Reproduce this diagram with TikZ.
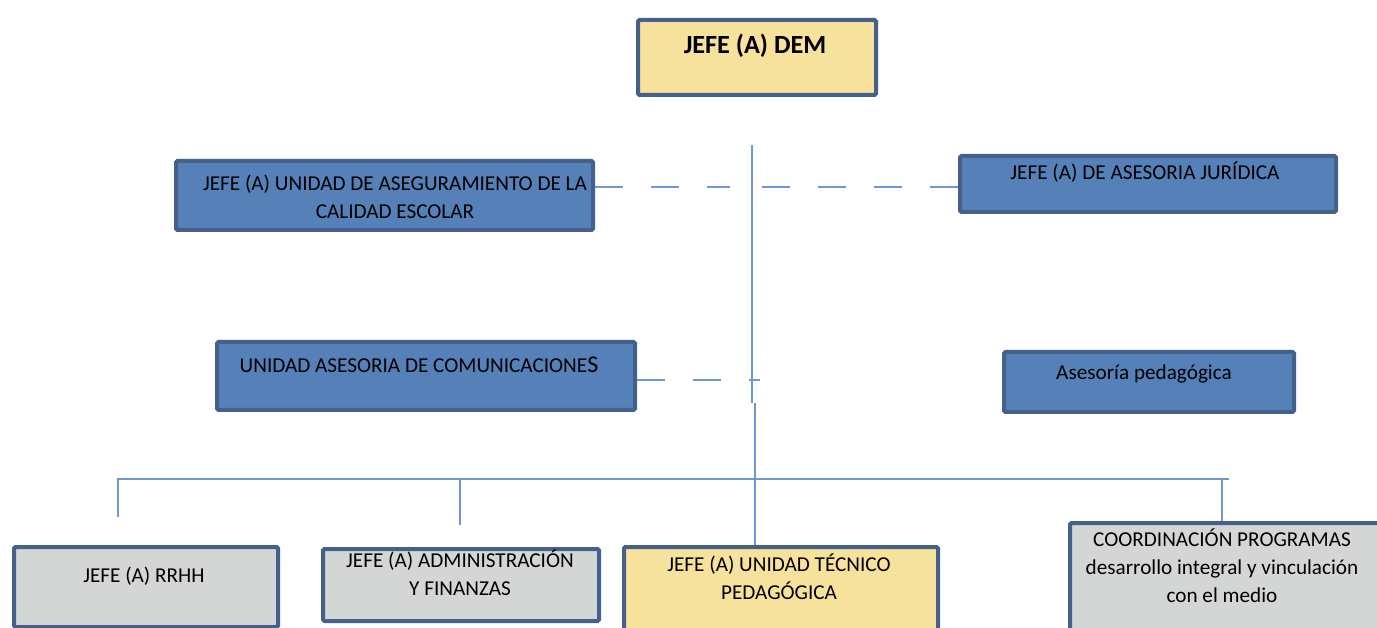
\documentclass[tikz,border=0pt]{standalone}
\usepackage{fontspec}
\setmainfont{Carlito}
\definecolor{bord}{HTML}{43618A}
\definecolor{bluefill}{HTML}{5580B8}
\definecolor{grayfill}{HTML}{D4D6D6}
\definecolor{yelfill}{HTML}{F6E29D}
\definecolor{conn}{HTML}{7097CF}
\begin{document}
\begin{tikzpicture}[x=1pt,y=-1pt,
  box/.style={draw=bord, line width=4pt, anchor=north west, inner sep=0pt, rounded corners=1.5pt},
  txt/.style={align=center, inner sep=0pt, font=\fontsize{21.2}{28}\selectfont},
  link/.style={draw=conn, line width=1.8pt},
  dlink/.style={draw=conn, line width=1.8pt, dash pattern=on 28pt off 28pt}]
\useasboundingbox (0,0) rectangle (1377,628);
% boxes
\node[box, fill=yelfill, minimum width=238, minimum height=75] (dem) at (636,18) {};
\node[box, fill=bluefill, minimum width=417, minimum height=69] (aseg) at (174,159) {};
\node[box, fill=bluefill, minimum width=376, minimum height=56] (jur) at (958,154) {};
\node[box, fill=bluefill, minimum width=418, minimum height=68] (com) at (215,340) {};
\node[box, fill=bluefill, minimum width=290, minimum height=60] (ped) at (1002,350) {};
\node[box, fill=grayfill, minimum width=264, minimum height=80] (rrhh) at (12,545) {};
\node[box, fill=grayfill, minimum width=276, minimum height=72] (adm) at (321,547) {};
\node[box, fill=yelfill, minimum width=314, minimum height=100] (utp) at (622,545) {};
\node[box, fill=grayfill, minimum width=330, minimum height=120] (coord) at (1068,521) {};
% texts
\node[inner sep=0pt, font=\fontsize{26.2}{32}\selectfont\bfseries] (tdem) at (755,46) {JEFE (A) DEM};
\node[txt] (taseg) at (395,197) {JEFE (A) UNIDAD DE ASEGURAMIENTO DE LA\\CALIDAD ESCOLAR};
\node[txt] (tjur) at (1145,172) {JEFE (A) DE ASESORIA JURÍDICA};
\node[txt] (tcom) at (419,365) {UNIDAD ASESORIA DE COMUNICACIONE{\fontsize{24}{28}\selectfont S}};
\node[txt] (tped) at (1144,374) {Asesoría pedagógica};
\node[txt] (trrhh) at (144,576) {JEFE (A) RRHH};
\node[txt] (tadm) at (460,573) {JEFE (A) ADMINISTRACIÓN\\Y FINANZAS};
\node[txt] (tutp) at (779,577) {JEFE (A) UNIDAD TÉCNICO\\PEDAGÓGICA};
\node[txt] (tcoord) at (1222,566) {COORDINACIÓN PROGRAMAS\\desarrollo integral y vinculación\\con el medio};
% connector coordinates
\coordinate (vtop) at (752,145);
\coordinate (vmid) at (752,403);
\coordinate (vmid2) at (755,403);
\coordinate (hl) at (117,479);
\coordinate (hr) at (1229,479);
\coordinate (d1) at (118,479);
\coordinate (d1e) at (118,517);
\coordinate (d2) at (460,479);
\coordinate (d2e) at (460,525);
\coordinate (d4) at (1222,479);
\coordinate (aL) at (730,187);
\coordinate (aR) at (762,187);
\coordinate (cR) at (760,380);
% connectors
\draw[link] (vtop) -- (vmid);
\draw[link] (vmid2) -- (utp.north -| vmid2);
\draw[link] (hl) -- (hr);
\draw[link] (d1) -- (d1e);
\draw[link] (d2) -- (d2e);
\draw[link] (d4) -- (d4 |- coord.north);
\draw[dlink] (aseg.east |- aL) -- (aL);
\draw[dlink] (jur.west |- aR) -- (aR);
\draw[dlink] (com.east |- cR) -- (cR);
\end{tikzpicture}
\end{document}
